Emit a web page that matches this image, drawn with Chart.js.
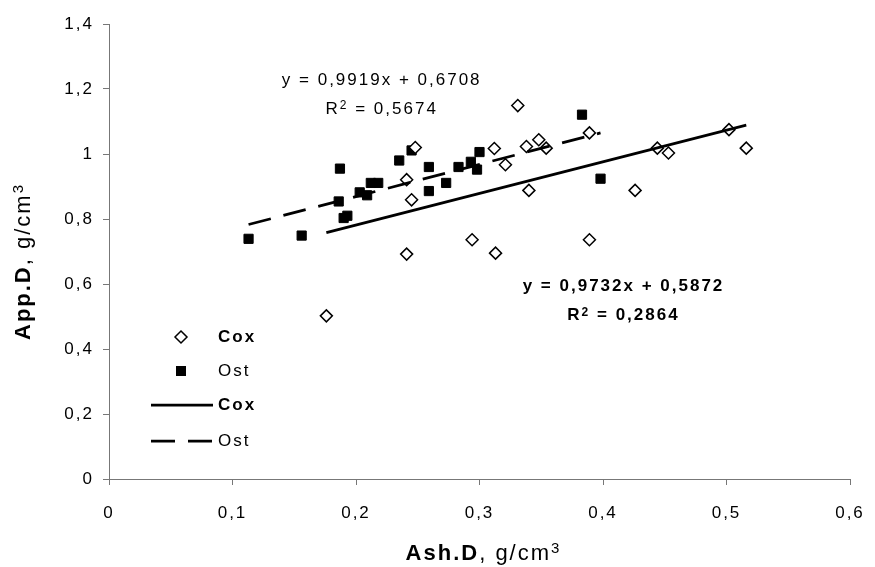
<!DOCTYPE html>
<html>
<head>
<meta charset="utf-8">
<script src="https://cdn.jsdelivr.net/npm/chart.js@4.4.1/dist/chart.umd.min.js"></script>
<style>
html, body { margin: 0; padding: 0; background: #fff; }
#wrap { width: 875px; height: 567px; position: relative; }
</style>
</head>
<body>
<div id="wrap"><canvas id="grafico"></canvas></div>
<script>
// Cox samples (Ash.D, App.D)
const coxX = [0.176, 0.241, 0.241, 0.245, 0.248, 0.294, 0.312, 0.313, 0.321, 0.331, 0.338,
              0.340, 0.348, 0.354, 0.389, 0.389, 0.426, 0.444, 0.453, 0.502, 0.516];
const coxY = [0.502, 0.692, 0.921, 0.859, 1.020, 0.736, 1.017, 0.695, 0.967, 1.149, 1.023,
              0.888, 1.044, 1.018, 1.065, 0.736, 0.888, 1.018, 1.003, 1.075, 1.018];
// Ost samples
const ostX = [0.113, 0.156, 0.186, 0.187, 0.190, 0.193, 0.203, 0.209, 0.212, 0.218, 0.235,
              0.245, 0.259, 0.259, 0.273, 0.283, 0.293, 0.298, 0.300, 0.383, 0.398];
const ostY = [0.739, 0.749, 0.854, 0.955, 0.803, 0.810, 0.882, 0.873, 0.911, 0.911, 0.980,
              1.011, 0.960, 0.886, 0.911, 0.960, 0.976, 0.952, 1.006, 1.121, 0.924];
// trend line ends
const coxTrendX = [0.176, 0.516];
const coxTrendY = [0.758, 1.089];
const ostTrendX = [0.113, 0.398];
const ostTrendY = [0.783, 1.065];

const xTickLabels = ['0', '0,1', '0,2', '0,3', '0,4', '0,5', '0,6'];
const yTickLabels = ['0', '0,2', '0,4', '0,6', '0,8', '1', '1,2', '1,4'];
const ostEquation = ['y = 0,9919x + 0,6708', '0,5674'];
const coxEquation = ['y = 0,9732x + 0,5872', '0,2864'];

const FAMILY = '"Liberation Sans", Arial, sans-serif';
const SPACING = '2px';

const pts = (xs, ys) => xs.map((x, i) => ({x: x, y: ys[i]}));

// texto com partes em negrito / expoente, centrado em (cx, cy)
function drawRich(ctx, parts, cx, cy, size, rotate) {
    ctx.save();
    ctx.letterSpacing = SPACING;
    ctx.fillStyle = '#000';
    ctx.textBaseline = 'middle';
    ctx.textAlign = 'left';
    const supSize = Math.round(size * 0.7);
    const fontFor = p => (p.bold ? 'bold ' : '') + (p.sup ? supSize : size) + 'px ' + FAMILY;
    let total = 0;
    parts.forEach(p => { ctx.font = fontFor(p); p.w = ctx.measureText(p.t).width; total += p.w; });
    ctx.translate(cx, cy);
    if (rotate) ctx.rotate(-Math.PI / 2);
    let x = -total / 2;
    parts.forEach(p => {
        ctx.font = fontFor(p);
        const dy = p.sup ? -(0.358 * (size - supSize) + 0.1 * size) : 0;
        ctx.fillText(p.t, x, dy);
        x += p.w;
    });
    ctx.restore();
}

const espacamento = {
    id: 'espacamento',
    beforeUpdate(c) { c.ctx.letterSpacing = SPACING; },
    beforeDraw(c) { c.ctx.letterSpacing = SPACING; }
};

const extras = {
    id: 'extras',
    afterDraw(c) {
        const ctx = c.ctx;
        const area = c.chartArea;
        const sx = c.scales.x, sy = c.scales.y;

        // equações
        let ex = sx.getPixelForValue(0.2208), ey = sy.getPixelForValue(1.227);
        drawRich(ctx, [{t: ostEquation[0]}], ex, ey, 17);
        drawRich(ctx, [{t: 'R'}, {t: '2', sup: true}, {t: ' = ' + ostEquation[1]}], ex, ey + 29, 17);
        ex = sx.getPixelForValue(0.4166); ey = sy.getPixelForValue(0.5917);
        drawRich(ctx, [{t: coxEquation[0], bold: true}], ex, ey, 17);
        drawRich(ctx, [{t: 'R', bold: true}, {t: '2', sup: true, bold: true}, {t: ' = ' + coxEquation[1], bold: true}], ex, ey + 29, 17);

        // títulos dos eixos
        drawRich(ctx, [{t: 'Ash.D', bold: true}, {t: ', g/cm'}, {t: '3', sup: true}],
            (area.left + area.right) / 2 + 4, 554, 22);
        drawRich(ctx, [{t: 'App.D', bold: true}, {t: ', g/cm'}, {t: '3', sup: true}],
            24, (area.top + area.bottom) / 2 + 10, 22, true);

        // legenda
        const lx = area.left + 72;
        const tx = area.left + 109;
        const rows = [area.bottom - 142, area.bottom - 108, area.bottom - 74, area.bottom - 38];
        ctx.save();
        // losango
        ctx.beginPath();
        ctx.moveTo(lx, rows[0] - 6);
        ctx.lineTo(lx + 6, rows[0]);
        ctx.lineTo(lx, rows[0] + 6);
        ctx.lineTo(lx - 6, rows[0]);
        ctx.closePath();
        ctx.fillStyle = '#fff';
        ctx.fill();
        ctx.lineWidth = 1.5;
        ctx.strokeStyle = '#000';
        ctx.stroke();
        // quadrado
        ctx.fillStyle = '#000';
        ctx.fillRect(lx - 5, rows[1] - 5, 10, 10);
        // linhas
        ctx.lineWidth = 2.75;
        ctx.beginPath();
        ctx.moveTo(area.left + 42, rows[2]);
        ctx.lineTo(area.left + 104, rows[2]);
        ctx.stroke();
        ctx.setLineDash([24, 13]);
        ctx.beginPath();
        ctx.moveTo(area.left + 42, rows[3]);
        ctx.lineTo(area.left + 104, rows[3]);
        ctx.stroke();
        ctx.setLineDash([]);
        ctx.letterSpacing = SPACING;
        ctx.textBaseline = 'middle';
        ctx.textAlign = 'left';
        ctx.font = 'bold 17px ' + FAMILY;
        ctx.fillText('Cox', tx, rows[0]);
        ctx.fillText('Cox', tx, rows[2]);
        ctx.font = '17px ' + FAMILY;
        ctx.fillText('Ost', tx, rows[1]);
        ctx.fillText('Ost', tx, rows[3]);
        ctx.restore();
    }
};

Chart.defaults.font.family = FAMILY;
Chart.defaults.font.size = 17;
Chart.defaults.color = '#000';

const ctxGrafico = document.getElementById('grafico').getContext('2d');
const grafico = new Chart(ctxGrafico, {
    type: 'scatter',
    data: {
        datasets: [{
            label: 'Cox',
            type: 'line',
            data: pts(coxTrendX, coxTrendY),
            borderColor: '#000',
            borderWidth: 2.75,
            pointRadius: 0,
            fill: false,
            order: 0
        }, {
            label: 'Ost',
            type: 'line',
            data: pts(ostTrendX, ostTrendY),
            borderColor: '#000',
            borderWidth: 2.75,
            borderDash: [23, 13],
            pointRadius: 0,
            fill: false,
            order: 0
        }, {
            label: 'Cox',
            data: pts(coxX, coxY),
            pointStyle: 'rectRot',
            pointRadius: 6,
            backgroundColor: '#fff',
            borderColor: '#000',
            borderWidth: 1.5,
            order: 1
        }, {
            label: 'Ost',
            data: pts(ostX, ostY),
            pointStyle: 'rect',
            pointRadius: 6.5,
            backgroundColor: '#000',
            borderColor: '#000',
            borderWidth: 1,
            order: 1
        }]
    },
    options: {
        responsive: true,
        maintainAspectRatio: false,
        animation: false,
        layout: {padding: {top: 24, right: 25, left: 0, bottom: 0}},
        plugins: {legend: {display: false}, tooltip: {enabled: false}},
        scales: {
            x: {
                type: 'linear',
                min: 0,
                max: 0.6,
                afterFit: s => { s.height = 88; s.paddingLeft = 0; s.paddingRight = 0; },
                ticks: {stepSize: 0.1, padding: 18, callback: (v, i) => xTickLabels[i]},
                grid: {drawOnChartArea: false, tickLength: 6, color: '#777'},
                border: {color: '#777'}
            },
            y: {
                min: 0,
                max: 1.4,
                afterFit: s => { s.width = 109; s.paddingTop = 0; s.paddingBottom = 0; },
                ticks: {stepSize: 0.2, padding: 9, callback: (v, i) => yTickLabels[i]},
                grid: {drawOnChartArea: false, tickLength: 6, color: '#777'},
                border: {color: '#777'}
            }
        }
    },
    plugins: [espacamento, extras]
});
</script>
</body>
</html>
